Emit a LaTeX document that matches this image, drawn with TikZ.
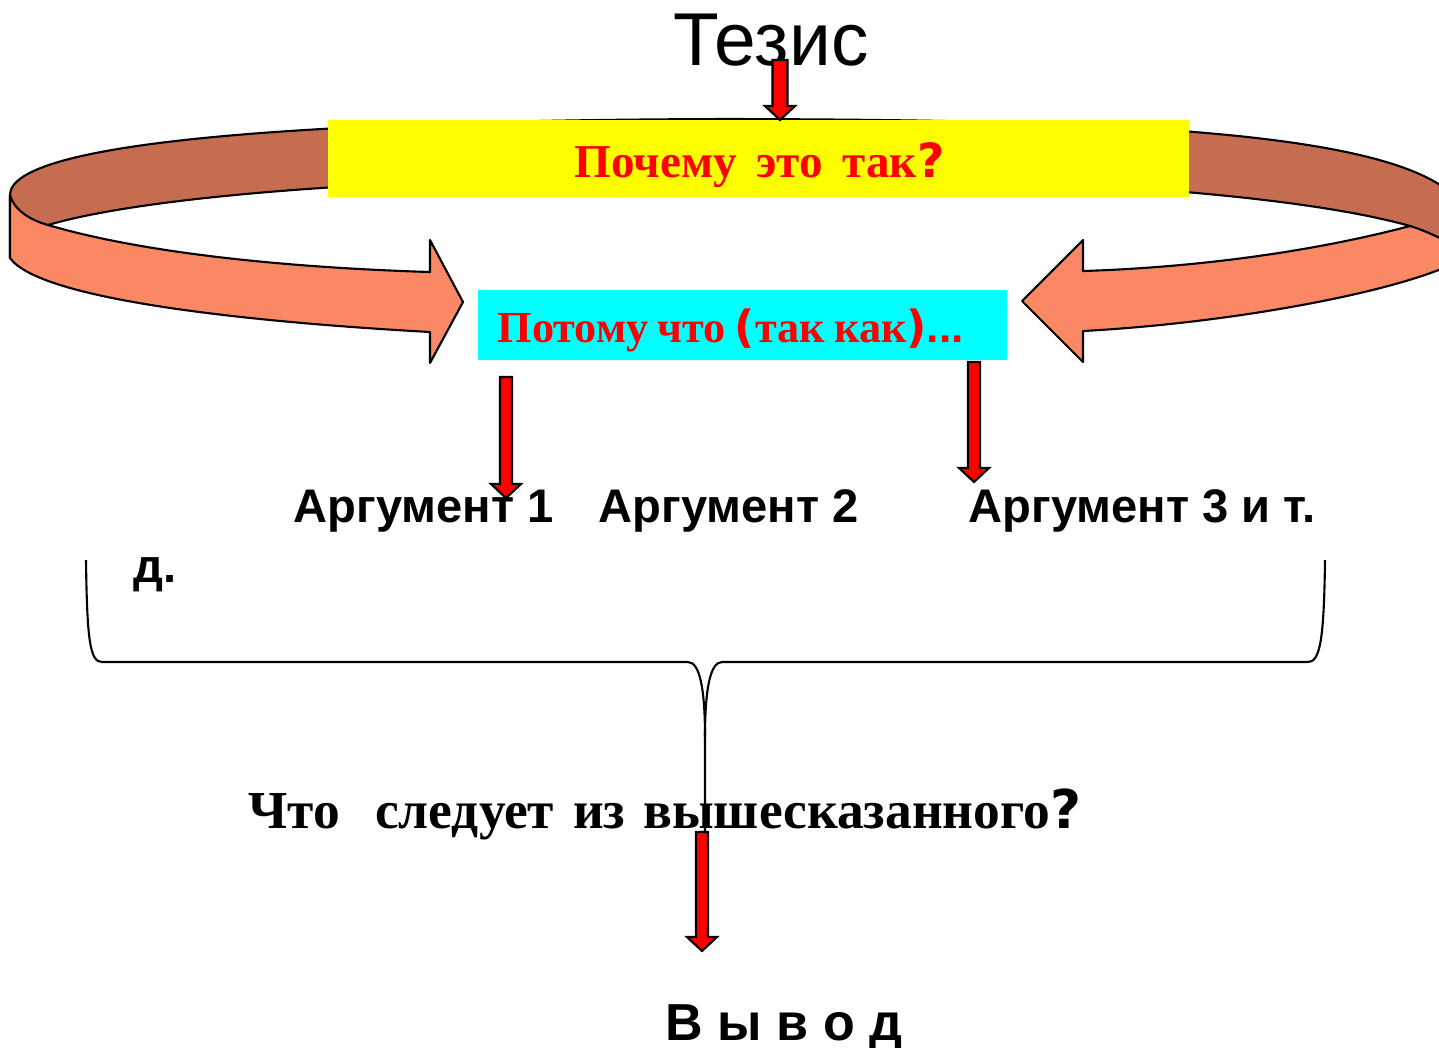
\documentclass[tikz,border=0pt]{standalone}
\usepackage{fontspec}
\setmainfont{Liberation Serif}
\setsansfont{Liberation Sans}
\newfontfamily\heavyfont{DejaVu Sans}
\usetikzlibrary{calc}

\definecolor{ringback}{RGB}{198,108,80}
\definecolor{ringfront}{RGB}{250,136,101}
\definecolor{whyyellow}{RGB}{255,255,0}
\definecolor{becausecyan}{RGB}{0,255,255}

\tikzset{
  ring/.style={draw=black, line width=0.6pt, line join=round},
  redarrow/.style={draw=black, fill=red, line width=0.6pt, line join=miter},
  brace/.style={draw=black, line width=0.6pt},
  whybox/.style={fill=whyyellow, inner sep=0pt, minimum width=8.61cm, minimum height=0.77cm},
  becausebox/.style={fill=becausecyan, inner sep=0pt, minimum width=5.29cm, minimum height=0.70cm},
  redtext/.style={text=red, inner sep=0pt, font=\bfseries\fontsize{13.4}{16}\selectfont},
  argtext/.style={inner sep=0pt, font=\sffamily\bfseries\fontsize{13.4}{16}\selectfont},
  bigtext/.style={inner sep=0pt, font=\bfseries\fontsize{15.2}{18}\selectfont}
}

% heavy question mark and brackets
\newcommand\heavy[1]{{\heavyfont\bfseries #1}}

% block arrow: [shaft half width]{from}{to}
\newcommand\redarrow[3][6]{%
  \draw[redarrow] ($(#2)+(-#1,0)$) -- ($(#3)+(-#1,-14)$) -- ($(#3)+(-15,-14)$) -- (#3)
    -- ($(#3)+(15,-14)$) -- ($(#3)+(#1,-14)$) -- ($(#2)+(#1,0)$) -- cycle;}

\begin{document}
\begin{tikzpicture}[x=0.01cm, y=-0.01cm]
    \useasboundingbox (0,0) rectangle (1439,1047);

    % back of the ring
    \path[ring, fill=ringback] (10,195) .. controls (10,142) and (300,120) .. (729,119)
        .. controls (1150,120) and (1470,132) .. (1470,230) -- (1470,254) -- (1410,226)
        .. controls (1300,195) and (1060,176) .. (729,176)
        .. controls (400,176) and (150,195) .. (48,225) -- (10,258) -- cycle;

    \node[whybox] (why) at (758.5,158.5) {};

    % front of the ring, two arrows
    \path[ring, fill=ringfront] (10,195) .. controls (14,210) and (30,220) .. (48,225)
        .. controls (150,255) and (300,268) .. (430,272) -- (430,240) -- (463,302)
        -- (430,363) -- (430,332) .. controls (250,322) and (40,300) .. (10,258) -- cycle;
    \path[ring, fill=ringfront] (1470,254) .. controls (1450,243) and (1430,232) .. (1410,226)
        .. controls (1300,255) and (1180,268) .. (1083,271) -- (1083,240) -- (1022,301)
        -- (1083,362) -- (1083,331) .. controls (1250,322) and (1430,285) .. (1470,254) -- cycle;

    \node[becausebox] (because) at (742.5,325) {};

    \node[inner sep=0pt, anchor=base, font=\sffamily\fontsize{21.3}{25}\selectfont] (tezis) at (771,65) {Тезис};
    \node[redtext, anchor=base west] (whytxt) at (574,177) {Почему\, это\, так\heavy{?}};
    \node[redtext, anchor=base west, font=\bfseries\fontsize{12.6}{15}\selectfont] (becausetxt) at (497,342)
        {Потому\hspace{0.09cm}что\hspace{0.09cm}\heavy{(}так\hspace{0.09cm}как\heavy{)}\textsf{...}};

    \node[argtext, anchor=base west] (arg1) at (293,522) {Аргумент 1};
    \node[argtext, anchor=base west] (arg2) at (598,522) {Аргумент 2};
    \node[argtext, anchor=base west] (arg3) at (968,522) {Аргумент 3 и т.};
    \node[argtext, anchor=base west] (arg3b) at (133,582) {д.};

    \node[bigtext, anchor=base west] (follows) at (248,828)
        {Что\hspace{0.35cm}следует\hspace{0.19cm}из\hspace{0.18cm}вышесказанного\heavy{?}};
    \node[argtext, anchor=base west, font=\sffamily\bfseries\fontsize{14.8}{17}\selectfont] (result) at (665,1040) {В ы в о д};

    % brace
    \draw[brace] (86,560) .. controls (87,640) and (90,662) .. (102,662) -- (688,662)
        .. controls (700,662) and (705,690) .. (705,737) -- (705,833);
    \draw[brace] (1325,560) .. controls (1324,640) and (1320,662) .. (1308,662) -- (722,662)
        .. controls (710,662) and (705,690) .. (705,737);

    \coordinate (a1) at (780,60);
    \coordinate (a1e) at (780,120);
    \coordinate (a2) at (506,377);
    \coordinate (a2e) at (506,498);
    \coordinate (a3) at (974,362);
    \coordinate (a3e) at (974,482);
    \coordinate (a4) at (702,832);
    \coordinate (a4e) at (702,951);
    \redarrow[7.5]{a1}{a1e}
    \redarrow{a2}{a2e}
    \redarrow{a3}{a3e}
    \redarrow{a4}{a4e}
\end{tikzpicture}
\end{document}
